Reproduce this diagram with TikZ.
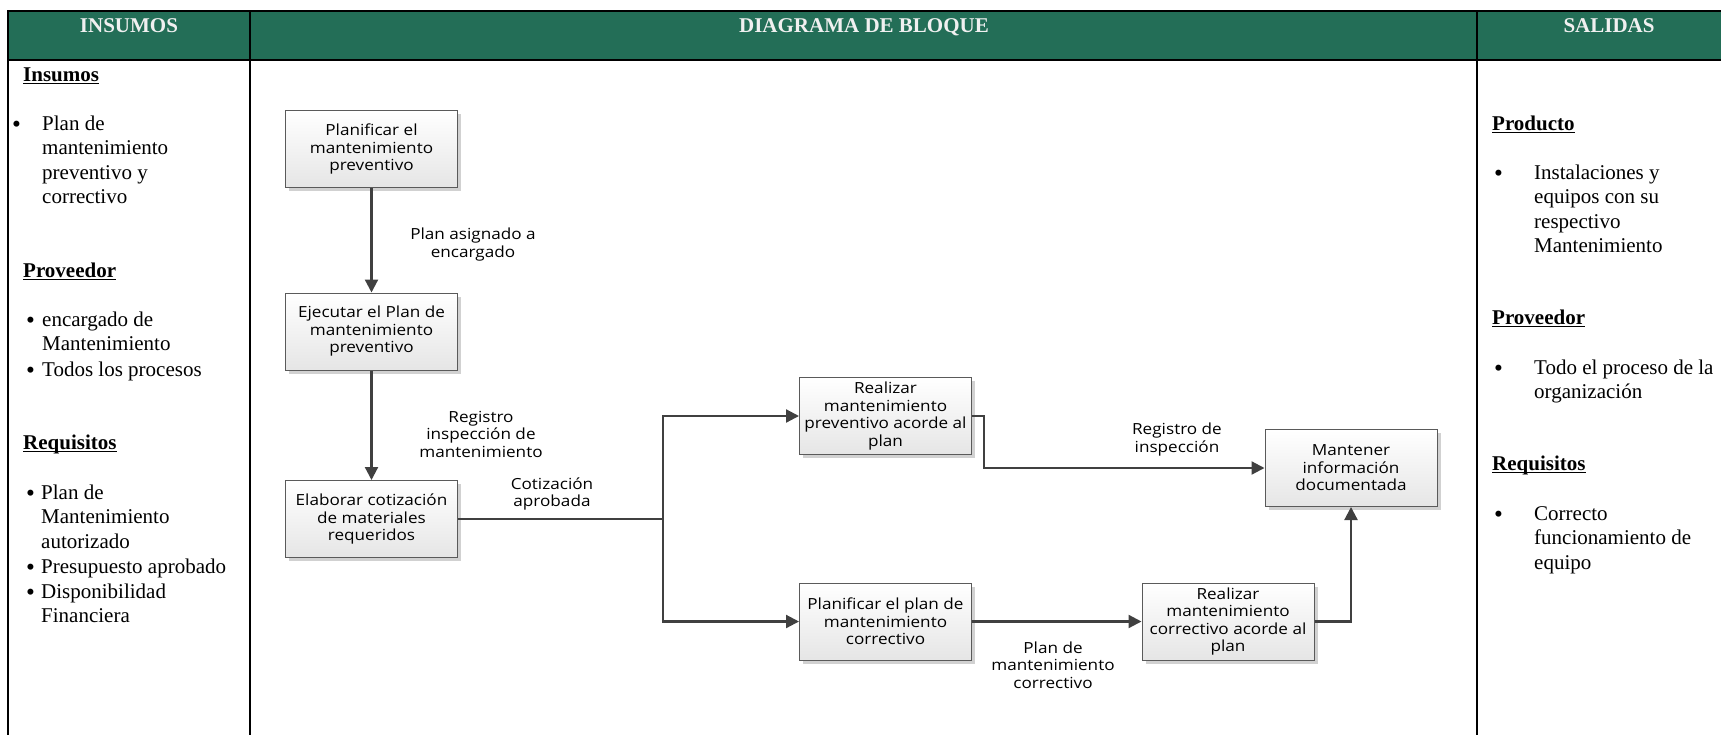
\documentclass[tikz,border=0pt]{standalone}
\usepackage{fontspec}
\usepackage{graphicx}
\setmainfont{Liberation Serif}
\newfontfamily\boxfont[FakeStretch=1.12]{Open Sans}
\usetikzlibrary{arrows.meta,shadows}

\definecolor{hdrgreen}{HTML}{236E57}
\definecolor{flowgray}{HTML}{404040}
\definecolor{boxedge}{HTML}{5A5A5A}

% bold heading with a solid underline
\newcommand\headul[1]{\setbox0\hbox{#1}\rlap{\rule[-3.2pt]{\wd0}{1.4pt}}\box0}
\newcommand\colsize{\fontsize{21}{24.5}\selectfont}
\newcommand\lines[1]{\parbox[t]{320pt}{\raggedright #1}}
\newcommand\bigbullet{\raisebox{-2pt}{\scalebox{1.2}{\textbullet}}}

\tikzset{
  x=1pt, y=-1pt,
  rule/.style={line width=2.6pt, draw=black},
  hdtext/.style={anchor=base, inner sep=0pt, text=white!94!black, font=\colsize\bfseries},
  secthead/.style={anchor=base west, inner sep=0pt, font=\colsize\bfseries},
  bodytext/.style={anchor=base west, inner sep=0pt, font=\colsize},
  stepbox/.style={draw=boxedge, line width=1pt, minimum width=172pt, minimum height=77pt,
    align=center, inner sep=0pt, top color=white, bottom color=black!10,
    font=\boxfont\fontsize{15.3}{17.5}\selectfont,
    drop shadow={shadow xshift=3.5pt, shadow yshift=-3.5pt, fill=black!18, opacity=1}},
  flowlabel/.style={align=center, inner sep=0pt, font=\boxfont\fontsize{15.3}{17.5}\selectfont},
  flow/.style={draw=flowgray, line width=2.2pt, -{Triangle[length=13pt,width=13pt]}},
  flowline/.style={draw=flowgray, line width=2.2pt},
}

\begin{document}
\begin{tikzpicture}
\useasboundingbox (0,0) rectangle (1721,734);

% table frame
\fill[hdrgreen] (8,11) rectangle (1730,60);
\draw[rule] (8,11) -- (1730,11);
\draw[rule] (8,60) -- (1730,60);
\draw[rule] (8,10) -- (8,740);
\draw[rule] (250,10) -- (250,740);
\draw[rule] (1477,10) -- (1477,740);

% column titles
\node[hdtext] (hIn)  at (129,32)  {INSUMOS};
\node[hdtext] (hDia) at (864,32)  {DIAGRAMA DE BLOQUE};
\node[hdtext] (hOut) at (1609,32) {SALIDAS};

% inputs column
\node[secthead] (inA) at (23,81) {\headul{Insumos}};
\node[bodytext] (inA1b) at (12,130) {\bigbullet};
\node[bodytext] (inA1) at (42,130) {\lines{Plan de\\mantenimiento\\preventivo y\\correctivo}};
\node[secthead] (inB) at (23,277) {\headul{Proveedor}};
\node[bodytext] (inB1b) at (26,326) {\bigbullet};
\node[bodytext] (inB1) at (42,326) {\lines{encargado de\\Mantenimiento}};
\node[bodytext] (inB2b) at (26,376) {\bigbullet};
\node[bodytext] (inB2) at (42,376) {Todos los procesos};
\node[secthead] (inC) at (23,449) {\headul{Requisitos}};
\node[bodytext] (inC1b) at (26,499) {\bigbullet};
\node[bodytext] (inC1) at (41,499) {\lines{Plan de\\Mantenimiento\\autorizado}};
\node[bodytext] (inC2b) at (26,573) {\bigbullet};
\node[bodytext] (inC2) at (41,573) {Presupuesto aprobado};
\node[bodytext] (inC3b) at (26,598) {\bigbullet};
\node[bodytext] (inC3) at (41,598) {\lines{Disponibilidad\\Financiera}};

% outputs column
\node[secthead] (outA) at (1492,130) {\headul{Producto}};
\node[bodytext] (outA1b) at (1494,179) {\bigbullet};
\node[bodytext] (outA1) at (1534,179) {\lines{Instalaciones y\\equipos con su\\respectivo\\Mantenimiento}};
\node[secthead] (outB) at (1492,324) {\headul{Proveedor}};
\node[bodytext] (outB1b) at (1494,374) {\bigbullet};
\node[bodytext] (outB1) at (1534,374) {\lines{Todo el proceso de la\\organización}};
\node[secthead] (outC) at (1492,470) {\headul{Requisitos}};
\node[bodytext] (outC1b) at (1494,520) {\bigbullet};
\node[bodytext] (outC1) at (1534,520) {\lines{Correcto\\funcionamiento de\\equipo}};

% process blocks
\node[stepbox] (b1) at (371.5,149)   {Planificar el\\mantenimiento\\preventivo};
\node[stepbox] (b2) at (371.5,331.5) {Ejecutar el Plan de\\mantenimiento\\preventivo};
\node[stepbox] (b3) at (371.5,519)   {Elaborar cotización\\de materiales\\requeridos};
\node[stepbox] (b4) at (885.5,416)   {Realizar\\mantenimiento\\preventivo acorde al\\plan};
\node[stepbox] (b5) at (885.5,621.5) {Planificar el plan de\\mantenimiento\\correctivo};
\node[stepbox] (b6) at (1351,468)    {Mantener\\información\\documentada};
\node[stepbox] (b7) at (1228,621.5)  {Realizar\\mantenimiento\\correctivo acorde al\\plan};

% connectors
\coordinate (split) at (663,519);
\draw[flow] (b1) -- (b2);
\draw[flow] (b2) -- (b3);
\draw[flowline] (b3.east) -- (split);
\draw[flow] (split) |- (b4.west);
\draw[flow] (split) |- (b5.west);
\draw[flow] (b4.east) -- ++(12,0) |- (b6.west);
\draw[flow] (b5) -- (b7);
\draw[flow] (b7.east) -| (b6.south);

% connector labels
\node[flowlabel] (l1) at (473,244.5) {Plan asignado a\\encargado};
\node[flowlabel] (l2) at (481,434)   {Registro\\inspección de\\mantenimiento};
\node[flowlabel] (l3) at (552,494)   {Cotización\\aprobada};
\node[flowlabel] (l4) at (1177,439.5) {Registro de\\inspección};
\node[flowlabel] (l5) at (1053,665)  {Plan de\\mantenimiento\\correctivo};
\end{tikzpicture}
\end{document}
